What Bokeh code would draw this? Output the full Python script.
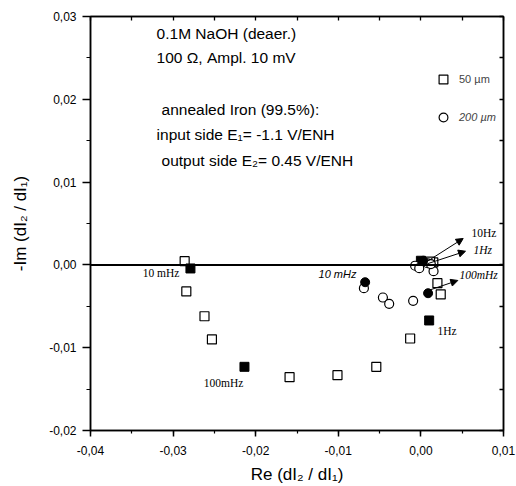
from bokeh.plotting import figure
from bokeh.models import (Range1d, LinearAxis, SingleIntervalTicker, FixedTicker, CustomJSTickFormatter,
                          Span, Arrow, NormalHead, Legend, LegendItem)
from bokeh.core.properties import value
from bokeh.embed import file_html
from bokeh.resources import INLINE

# ---- data ----
# 50 µm, open squares
sq_open_re = [-0.0286, -0.0284, -0.0262, -0.0253, -0.0159, -0.0101, -0.0054, -0.0013, 0.0020, 0.0024, 0.0015, 0.0011]
sq_open_im = [0.00045, -0.0032, -0.0062, -0.0090, -0.01356, -0.01332, -0.01231, -0.00889, -0.00221, -0.00357, 0.0003, 0.0004]
# 50 µm, filled squares (labelled frequencies)
sq_fill_re = [-0.0279, -0.02136, 0.0010, 0.0000]
sq_fill_im = [-0.00043, -0.01231, -0.00671, 0.0005]
# 200 µm, open circles
ci_open_re = [-0.0069, -0.0046, -0.00384, -0.00094, -0.0007, -0.0002, 0.00153, 0.0008, 0.0012]
ci_open_im = [-0.00281, -0.00394, -0.0047, -0.00434, -0.0001, -0.0004, -0.00076, 0.0002, 0.0001]
# 200 µm, filled circles (labelled frequencies)
ci_fill_re = [-0.00675, 0.00087, 0.00027]
ci_fill_im = [-0.00209, -0.00342, 0.0005]

# tick positions for the inner (top / right) tick marks
x_inner_ticks = [-0.04, -0.035, -0.03, -0.025, -0.02, -0.015, -0.01, -0.005, 0.0, 0.005, 0.01]
y_inner_ticks = [-0.02, -0.015, -0.01, -0.005, 0.0, 0.005, 0.01, 0.015, 0.02, 0.025, 0.03]

# annotation texts
info_lines = ["0.1M NaOH (deaer.)", "100 \u03a9, Ampl. 10 mV", "annealed Iron (99.5%):",
              "input side E\u2081= -1.1 V/ENH", "output side E\u2082= 0.45 V/ENH"]
info_x = [-0.0320, -0.0320, -0.0314, -0.0320, -0.0314]
info_y = [0.02795, 0.02505, 0.01877, 0.01575, 0.01261]

serif_txt = ["100mHz", "1Hz", "10Hz"]
serif_x = [-0.0239, 0.00201, 0.00613]
serif_y = [-0.01432, -0.0080, 0.00391]
serif_align = ["center", "left", "left"]

serif_it_txt = ["1Hz", "100mHz"]
serif_it_x = [0.00637, 0.00467]
serif_it_y = [0.00174, -0.00128]

arrows = [  # x0, y0, x1, y1
    (0.00056, 0.00029, 0.00512, 0.00319),
    (0.00076, 0.00013, 0.00540, 0.00165),
    (0.00116, -0.0030, 0.00447, -0.00188),
]

p = figure(width=516, height=486, output_backend="svg", toolbar_location=None,
           x_range=Range1d(-0.04, 0.01), y_range=Range1d(-0.02, 0.03),
           min_border_left=90, min_border_right=13, min_border_top=16, min_border_bottom=56,
           background_fill_color="white", border_fill_color="white")
p.grid.visible = False
p.outline_line_color = "black"
p.outline_line_width = 1.5

fmt = CustomJSTickFormatter(code="""
if (Math.abs(tick) < 1e-9) { return "0,00"; }
return tick.toFixed(2).replace(".", ",");
""")

FONT = "Liberation Sans"
for ax in (p.xaxis[0], p.yaxis[0]):
    ax.ticker = SingleIntervalTicker(interval=0.01, num_minor_ticks=2)
    ax.formatter = fmt
    ax.axis_line_width = 1.5
    ax.major_tick_line_width = 1.5
    ax.minor_tick_line_width = 1.2
    ax.major_tick_in = 0
    ax.minor_tick_in = 0
    ax.major_label_text_font = FONT
    ax.major_label_text_font_size = "12px"
    ax.major_label_text_color = "black"
    ax.axis_label_text_font = FONT
    ax.axis_label_text_font_size = "17px"
    ax.axis_label_text_font_style = "normal"
    ax.axis_label_text_color = "black"

p.xaxis[0].axis_label = "Re (dI\u2082 / dI\u2081)"
p.xaxis[0].major_tick_out = 6
p.xaxis[0].minor_tick_out = 3
p.xaxis[0].major_label_standoff = 9
p.xaxis[0].axis_label_standoff = 7

p.yaxis[0].axis_label = "-Im (dI\u2082 / dI\u2081)"
p.yaxis[0].major_tick_out = 8
p.yaxis[0].minor_tick_out = 4
p.yaxis[0].major_label_standoff = 6
p.yaxis[0].axis_label_standoff = 16

for loc, tks in (("above", x_inner_ticks), ("right", y_inner_ticks)):
    ax = LinearAxis(ticker=FixedTicker(ticks=[], minor_ticks=tks),
                    major_label_standoff=0, major_tick_out=0, minor_tick_out=0,
                    major_tick_in=0, minor_tick_in=4,
                    axis_line_width=1.5, minor_tick_line_width=1.3)
    p.add_layout(ax, loc)

p.add_layout(Span(location=0, dimension="width", line_color="black", line_width=2))

r_sq = p.scatter(sq_open_re, sq_open_im, marker="square", size=9, fill_color="white",
                 line_color="black", line_width=1.2)
p.scatter(sq_fill_re, sq_fill_im, marker="square", size=9, fill_color="black", line_color="black")
r_ci = p.scatter(ci_open_re, ci_open_im, marker="circle", size=9, fill_color="white",
                 line_color="black", line_width=1.2)
p.scatter(ci_fill_re, ci_fill_im, marker="circle", size=9, fill_color="black", line_color="black")

for (x0, y0, x1, y1) in arrows:
    p.add_layout(Arrow(end=NormalHead(size=7, fill_color="black", line_color="black"),
                       x_start=x0, y_start=y0, x_end=x1, y_end=y1,
                       line_color="black", line_width=1))

p.text(info_x, info_y, text=info_lines, text_font=value(FONT), text_font_size="15.5px",
       text_baseline="middle", text_align="left", text_color="black")

p.text(serif_x, serif_y, text=serif_txt, text_align=serif_align, text_font=value("Liberation Serif"),
       text_font_size="11.5px", text_baseline="middle", text_color="black")
p.text([-0.02923], [-0.00092], text=["10 mHz"], text_align="right", text_font=value("Liberation Serif"),
       text_font_size="11.5px", text_baseline="middle", text_color="black")
p.text(serif_it_x, serif_it_y, text=serif_it_txt, text_align="left", text_font=value("Liberation Serif"),
       text_font_size="11.5px", text_font_style="italic", text_baseline="middle", text_color="black")
p.text([-0.0101], [-0.00104], text=["10 mHz"], text_align="center", text_font=value(FONT),
       text_font_size="11px", text_font_style="italic", text_baseline="middle", text_color="black")

leg1 = Legend(items=[LegendItem(label="50 \u00b5m", renderers=[r_sq])], location=(342, 340),
              glyph_width=22, glyph_height=22, label_height=22, label_standoff=5,
              padding=0, margin=0, border_line_color=None, background_fill_alpha=0,
              label_text_font=FONT, label_text_font_size="11px")
leg2 = Legend(items=[LegendItem(label="200 \u00b5m", renderers=[r_ci])], location=(342, 302),
              glyph_width=22, glyph_height=22, label_height=22, label_standoff=5,
              padding=0, margin=0, border_line_color=None, background_fill_alpha=0,
              label_text_font=FONT, label_text_font_size="11px", label_text_font_style="italic")
p.add_layout(leg1, "center")
p.add_layout(leg2, "center")

open("out.html", "w").write(file_html(p, INLINE))
